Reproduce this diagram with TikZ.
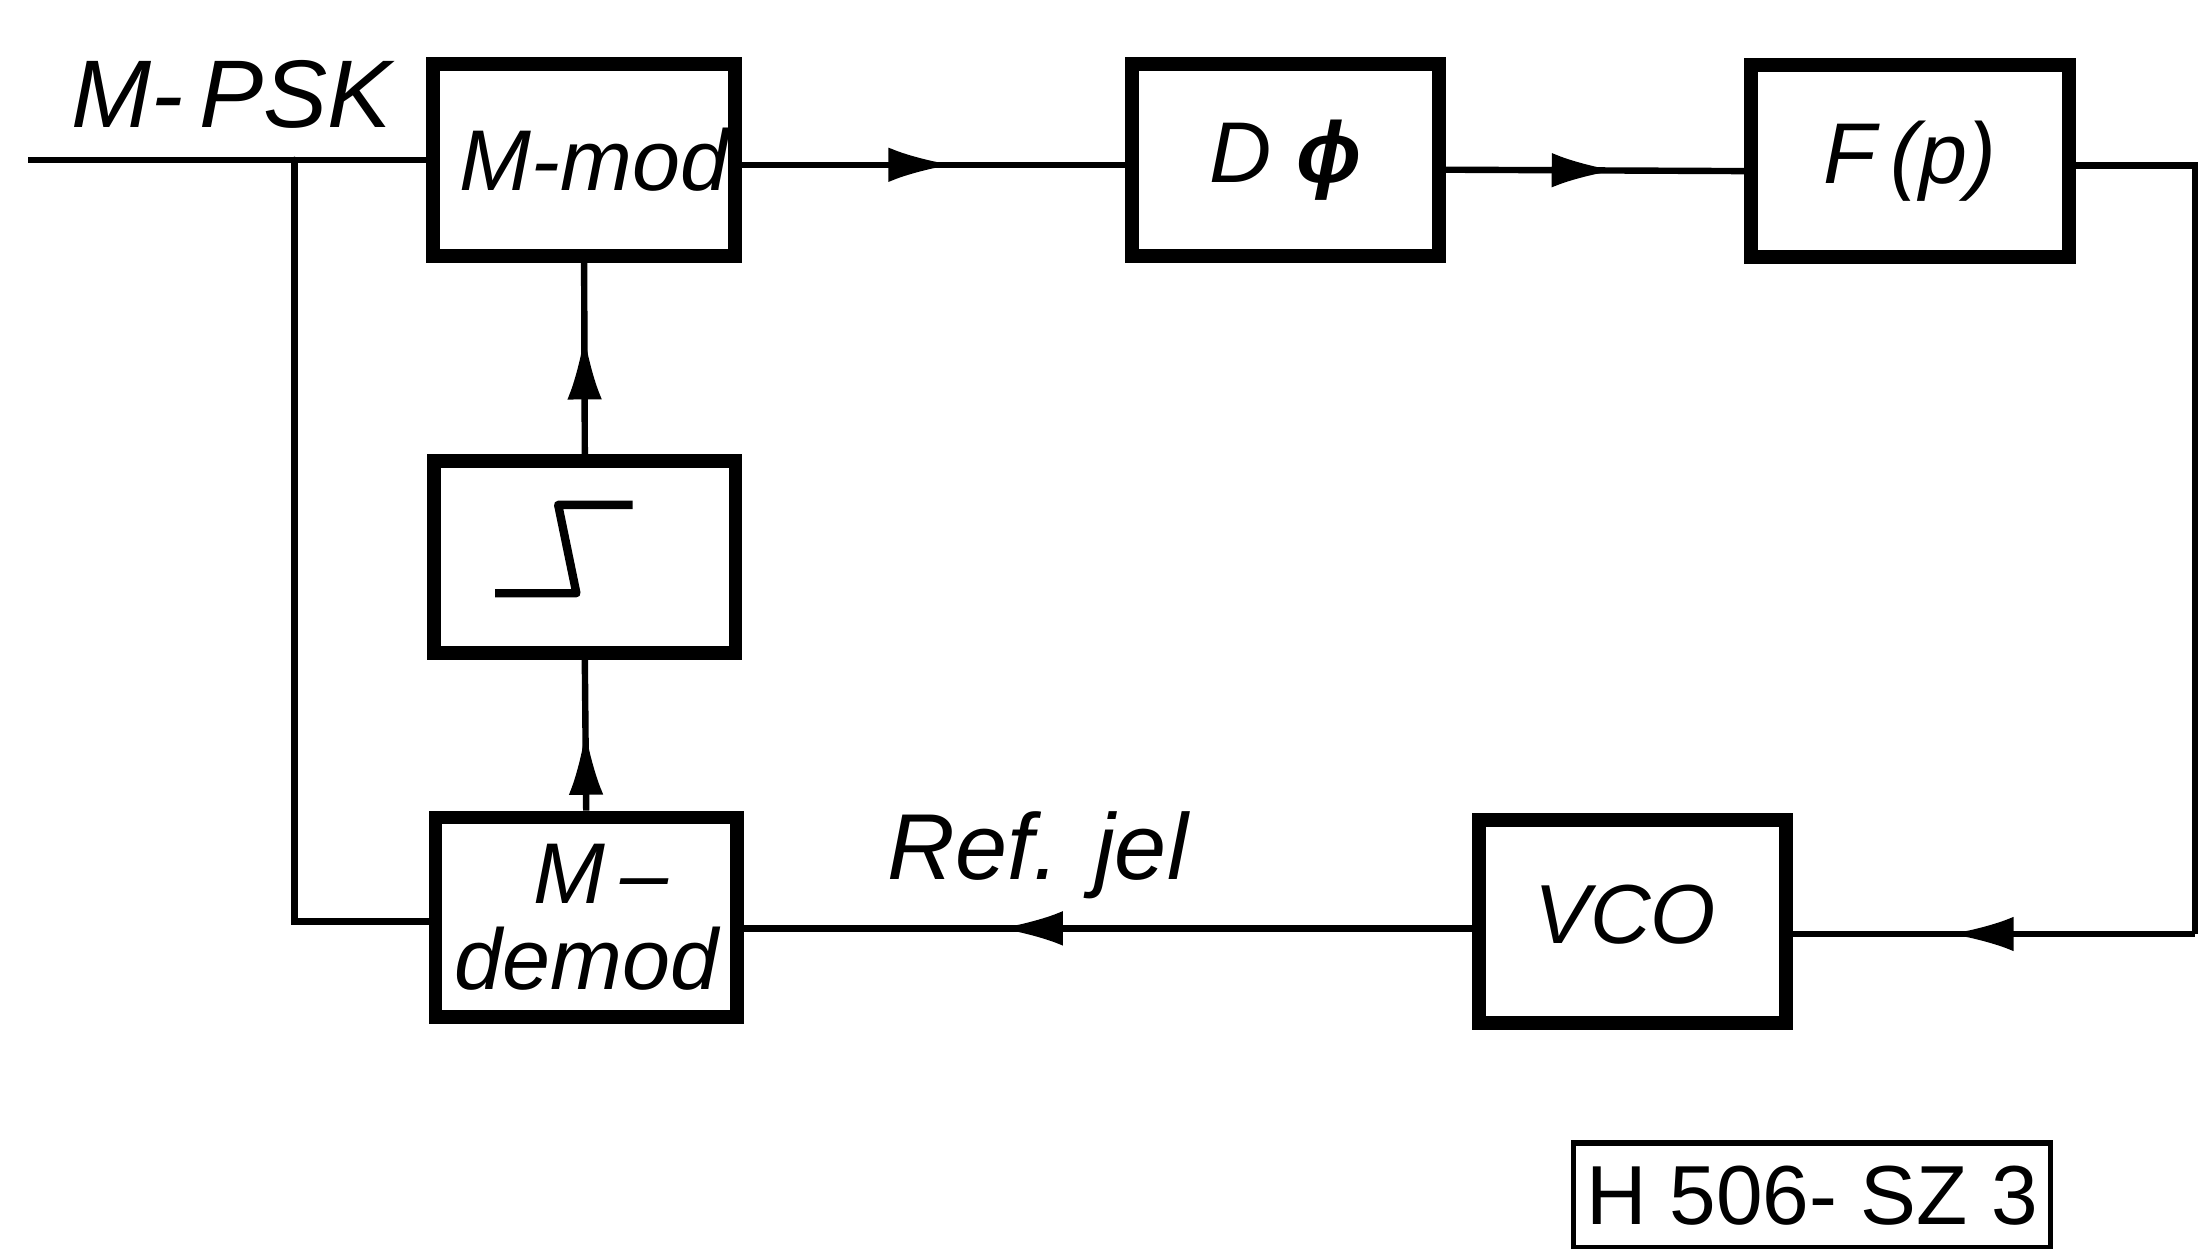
\documentclass[tikz,border=0pt]{standalone}
\usepackage{fontspec}
\setmainfont{Liberation Sans}
\usetikzlibrary{arrows.meta,decorations.markings}
\tikzset{
  blockbox/.style={draw=black, line width=2.8pt, minimum width=2.15cm, minimum height=1.37cm, inner sep=0pt, font=\fontsize{17.5}{19}\selectfont\itshape},
  sigline/.style={draw=black, line width=1.3pt},
  midarrow/.style={postaction={decorate}, decoration={markings, mark=at position #1 with {\arrow{Latex[length=13pt,width=7pt]}}}},
}
\begin{document}
\begin{tikzpicture}
  \useasboundingbox (0,0) rectangle (15.68,8.9);
  % Top row
  \node[blockbox] (mmod) at (4.165,7.76) {\raisebox{-1pt}{\hspace{4pt}M-mod}};
  \node[blockbox, minimum width=2.19cm] (dphi) at (9.165,7.76) {\raisebox{-2pt}{D\hspace{5pt}{\bfseries ϕ}}\hspace{11pt}};
  \node[blockbox, minimum width=2.27cm] (fp) at (13.62,7.75) {\raisebox{-2pt}{F\,(p)}};
  % Left column
  \node[blockbox] (limiter) at (4.17,4.93) {};
  \node[blockbox, minimum height=1.42cm, align=center, font=\fontsize{17.5}{17.5}\selectfont\itshape] (mdemod) at (4.18,2.36) {\hspace{6pt}M\,--\\demod};
  % Bottom row
  \node[blockbox, minimum width=2.19cm, minimum height=1.45cm] (vco) at (11.64,2.33) {\fontsize{17}{18}\selectfont\raisebox{3pt}{\hspace{-3pt}VCO}};
  % Free ends
  \coordinate (input) at (0.2,7.76);
  \coordinate (split) at (2.1,7.76);
  \coordinate (splitlow) at (2.1,2.33);
  \coordinate (fpturn) at (15.65,7.72);
  \coordinate (vcoturn) at (15.65,2.24);
  % Connectors
  \draw[sigline] (input) -- (mmod.west);
  \draw[sigline, line cap=round] (split) -- (splitlow) -- (splitlow -| mdemod.west);
  \draw[sigline, midarrow=0.55] ([yshift=-1pt]mmod.east) -- ([yshift=-1pt]dphi.west);
  \draw[sigline, midarrow=0.57] ([yshift=-2pt]dphi.east) -- ([yshift=-2pt]fp.west);
  \draw[sigline] (fpturn -| fp.east) -- (fpturn) -- (vcoturn);
  \draw[sigline, midarrow=0.61] (vcoturn) -- (vcoturn -| vco.east);
  \draw[sigline, midarrow=0.65] (vco.west |- 0,2.28) -- (mdemod.east |- 0,2.28);
  \draw[sigline, midarrow=0.53] (mdemod.north) -- (limiter.south);
  \draw[sigline, midarrow=0.62] (limiter.north) -- (mmod.south);
  % Limiter curve
  \draw[sigline, line width=1.7pt, line join=round] (3.53,4.67) -- (4.11,4.67) -- (3.98,5.3) -- (4.51,5.3);
  % Labels
  \node[font=\fontsize{19.5}{21}\selectfont\itshape, inner sep=0pt] (label) at (1.65,8.23) {M-\,PSK};
  \node[font=\fontsize{19}{20}\selectfont\itshape, inner sep=0pt] (refjel) at (7.4,2.8) {Ref. jel};
  \node[draw=black, line width=1.1pt, minimum width=3.4cm, minimum height=0.75cm, inner sep=0pt, font=\fontsize{17}{18}\selectfont] (code) at (12.92,0.375) {H 506- SZ 3};
\end{tikzpicture}
\end{document}
